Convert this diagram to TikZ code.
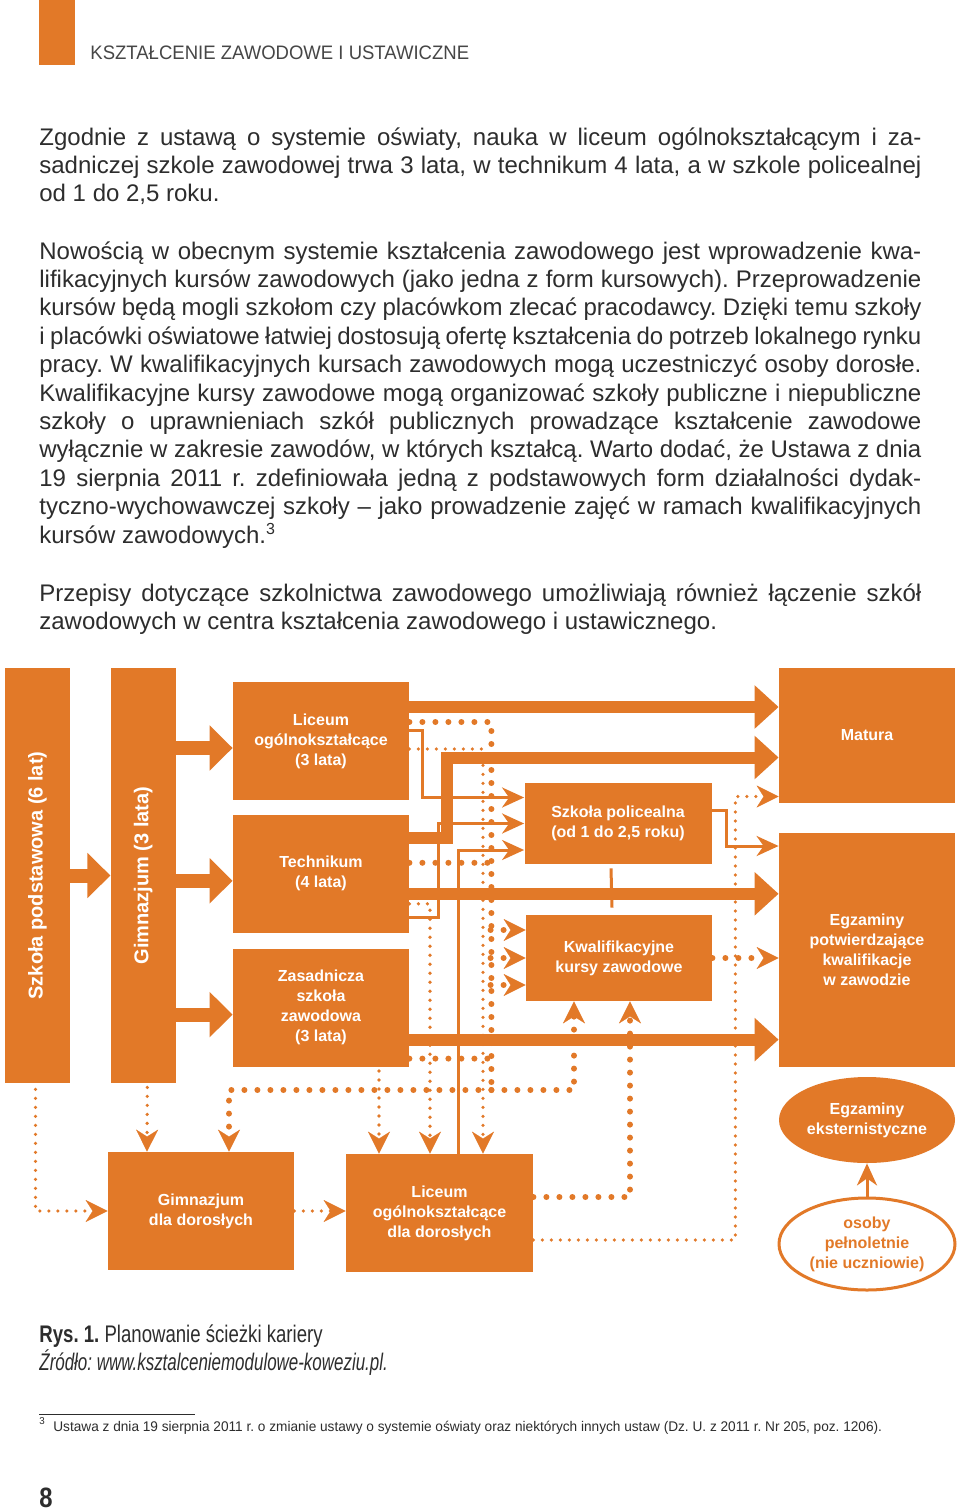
\documentclass[tikz,border=0pt]{standalone}
\usepackage{fontspec}
\setmainfont{Liberation Sans}
\usepackage{graphicx}
\usetikzlibrary{arrows.meta, positioning, calc, shapes.geometric}
\definecolor{pomar}{RGB}{226,121,40}
\definecolor{tekst}{RGB}{45,45,45}
\definecolor{szary}{RGB}{70,70,70}
\frenchspacing

\begin{document}
\begin{tikzpicture}[x=0.5pt, y=-0.5pt,
    skrzynka/.style={fill=pomar, text=white, align=center, inner sep=0pt,
                     font=\fontsize{8pt}{10pt}\selectfont\bfseries},
    akapit/.style={anchor=north west, text width=441pt, align=justify, inner sep=0pt,
                   text=tekst, font=\fontsize{12pt}{14.2pt}\selectfont},
    gruba/.style={pomar, line width=6pt, -{Triangle[length=12pt, width=21pt]}},
    grubaP/.style={pomar, line width=7pt, -{Triangle[length=11.5pt, width=22pt]}},
    cienka/.style={pomar, line width=1.5pt, -{Stealth[length=11pt, width=10pt, inset=3.5pt]}},
    kropki/.style={pomar, line width=3pt, line cap=round, dash pattern=on 0pt off 6.5pt},
    kropeczki/.style={pomar, line width=1.8pt, line cap=round, dash pattern=on 0pt off 4.5pt},
    grot/.style={-{Stealth[length=11pt, width=11pt, inset=3.5pt, line width=0.1pt]}}
  ]
    \useasboundingbox[fill=white] (0,0) rectangle (960,1510);
    \hyphenpenalty=10000 \exhyphenpenalty=10000 \tolerance=10000

    % naglowek strony
    \fill[pomar] (39,0) rectangle (75,65);
    \node[anchor=base west, inner sep=0pt, text=szary, font=\fontsize{9.75pt}{11pt}\selectfont]
      (naglowek) at (90,59) {\scalebox{0.95}[1]{KSZTAŁCENIE ZAWODOWE I USTAWICZNE}};

    \node[akapit] (akapit1) at (39,127)
      {Zgodnie z ustawą o systemie oświaty, nauka w liceum ogólnokształcącym i za-\linebreak
       sadniczej szkole zawodowej trwa 3 lata, w technikum 4 lata, a w szkole policealnej\linebreak
       od 1 do 2,5 roku.};
    \node[akapit] (akapit2) at (39,241)
      {Nowością w obecnym systemie kształcenia zawodowego jest wprowadzenie kwa-\linebreak
       lifikacyjnych kursów zawodowych (jako jedna z form kursowych). Przeprowadzenie\linebreak
       kursów będą mogli szkołom czy placówkom zlecać pracodawcy. Dzięki temu szkoły\linebreak
       i placówki oświatowe łatwiej dostosują ofertę kształcenia do potrzeb lokalnego rynku\linebreak
       pracy. W kwalifikacyjnych kursach zawodowych mogą uczestniczyć osoby dorosłe.\linebreak
       Kwalifikacyjne kursy zawodowe mogą organizować szkoły publiczne i niepubliczne\linebreak
       szkoły o uprawnieniach szkół publicznych prowadzące kształcenie zawodowe\linebreak
       wyłącznie w zakresie zawodów, w których kształcą. Warto dodać, że Ustawa z dnia\linebreak
       19 sierpnia 2011 r. zdefiniowała jedną z podstawowych form działalności dydak-\linebreak
       tyczno-wychowawczej szkoły – jako prowadzenie zajęć w ramach kwalifikacyjnych\linebreak
       kursów zawodowych.\textsuperscript{3}};
    \node[akapit] (akapit3) at (39,583)
      {Przepisy dotyczące szkolnictwa zawodowego umożliwiają również łączenie szkół\linebreak
       zawodowych w centra kształcenia zawodowego i ustawicznego.};

    % schemat
    \node[skrzynka, minimum width=32.5pt, minimum height=207.5pt] (podst) at (37.5,875.5)
      {\rotatebox{90}{\fontsize{10pt}{12pt}\selectfont Szkoła podstawowa (6 lat)}};
    \node[skrzynka, minimum width=32.5pt, minimum height=207.5pt, right=20pt of podst] (gimn)
      {\rotatebox{90}{\fontsize{10pt}{12pt}\selectfont Gimnazjum (3 lata)}};
    \node[skrzynka, minimum width=88pt, minimum height=59pt] (lic) at (321,741)
      {Liceum\\ogólnokształcące\\(3 lata)};
    \node[skrzynka, minimum width=88pt, minimum height=59pt, below=7pt of lic] (tech)
      {Technikum\\(4 lata)};
    \node[skrzynka, minimum width=88pt, minimum height=59pt, below=7.5pt of tech] (zsz)
      {Zasadnicza\\szkoła\\zawodowa\\(3 lata)};
    \node[skrzynka, minimum width=88pt, minimum height=67.5pt] (matura) at (867,735.5) {Matura};
    \node[skrzynka, minimum width=88pt, minimum height=117pt] (egz) at (867,950)
      {Egzaminy\\potwierdzające\\kwalifikacje\\w zawodzie};
    \node[skrzynka, minimum width=93.5pt, minimum height=40.5pt] (polic) at (618,823.5)
      {Szkoła policealna\\(od 1 do 2,5 roku)};
    \node[skrzynka, minimum width=93pt, minimum height=43pt] (kkz) at (619,958)
      {Kwalifikacyjne\\kursy zawodowe};
    \node[skrzynka, ellipse, minimum width=88pt, minimum height=43pt] (ekst) at (867,1120)
      {Egzaminy\\eksternistyczne};
    \node[skrzynka, ellipse, fill=white, draw=pomar, line width=1.5pt, text=pomar,
          minimum width=88pt, minimum height=46pt] (osoby) at (867,1244)
      {osoby\\pełnoletnie\\(nie uczniowie)};
    \node[skrzynka, minimum width=93pt, minimum height=59pt] (gimdor) at (201,1211)
      {Gimnazjum\\dla dorosłych};
    \node[skrzynka, minimum width=93.5pt, minimum height=59pt] (licdor) at (439.5,1213)
      {Liceum\\ogólnokształcące\\dla dorosłych};

    % kropki duze
    \coordinate (szyna) at ($(lic.east)+(82,349)$);
    \draw[kropki] ($(lic.east)+(0,-19)$) -| (szyna);
    \draw[kropki] ($(tech.east)+(0,-11)$) -- ++(82,0);
    \draw[kropki] ($(zsz.east)+(0,51)$) -- ++(82,0);
    \draw[kropki, grot] (szyna) -| ($(gimdor.north)+(28,0)$);
    \draw[kropki, grot] (szyna) -| ($(kkz.south)+(-45,0)$);
    \foreach \dy in {-28,0,27}
      \draw[kropki, grot] ($(kkz.west)+(-35,\dy)$) -- ($(kkz.west)+(0,\dy)$);
    \draw[kropki, grot] (kkz.east) -- (kkz.east -| egz.west);
    \draw[kropki, grot] ($(licdor.east)+(0,-16)$) -| ($(kkz.south)+(11,0)$);

    % kropki male
    \draw[kropeczki, grot] ($(lic.east)+(0,8)$) -| ($(licdor.north)+(43.5,0)$);
    \draw[kropeczki, grot] ($(tech.east)+(0,30)$) -| ($(licdor.north)+(-9.5,0)$);
    \draw[kropeczki, grot] ($(zsz.south)+(58,4)$) -- ($(licdor.north)+(-60.5,0)$);
    \draw[kropeczki, grot] ($(gimn.south)+(4,4)$) -- ($(gimdor.north)+(-54,0)$);
    \draw[kropeczki, grot] ($(podst.south)+(-2,6)$) |- (gimdor.west);
    \draw[kropeczki, grot] (gimdor.east) -- (gimdor.east -| licdor.west);
    \draw[kropeczki, grot] ($(licdor.east)+(0,27)$) -- ++(202,0) |- ($(matura.west)+(0,61)$);

    % linie cienkie
    \draw[cienka] ($(lic.east)+(0,-11)$) -- ++(13,0) |- ($(polic.west)+(0,-26)$);
    \draw[cienka] ($(tech.east)+(0,44)$) -- ++(29,0) |- (polic.west);
    \draw[cienka] ($(licdor.north)+(18.5,0)$) |- ($(polic.west)+(0,26.5)$);
    \draw[cienka] ($(polic.east)+(0,-13.5)$) -- ++(15,0) |- ($(egz.west)+(0,-104)$);
    \draw[pomar, line width=1.5pt] ($(polic.south)+(-7,4)$) -- ($(kkz.north)+(-7,-7)$);
    \draw[cienka] (osoby) -- (ekst);

    % strzalki grube
    \draw[grubaP] (podst.east) -- (gimn.west);
    \foreach \cel in {lic,tech,zsz}
      \draw[grubaP] ($(gimn.east |- \cel.west)+(0,7)$) -- ($(\cel.west)+(0,7)$);
    \coordinate (lm) at ($(lic.east)+(0,-34)$);
    \draw[gruba] (lm) -- (lm -| matura.west);
    \draw[gruba] ($(tech.east)+(0,-36)$) -- ++(38,0) |- ($(matura.west)+(0,22)$);
    \coordinate (te) at ($(tech.east)+(0,20)$);
    \draw[gruba] (te) -- (te -| egz.west);
    \coordinate (ze) at ($(zsz.east)+(0,32)$);
    \draw[gruba] (ze) -- (ze -| egz.west);

    % podpis i przypis
    \node[anchor=base west, inner sep=0pt, text=tekst, font=\fontsize{12pt}{14pt}\selectfont]
      (rys) at (39,1342) {\scalebox{0.775}[1]{\textbf{Rys. 1.} Planowanie ścieżki kariery}};
    \node[anchor=base west, inner sep=0pt, text=tekst, font=\fontsize{12pt}{14pt}\selectfont\itshape]
      (zrodlo) at (39,1370) {\scalebox{0.706}[1]{Źródło: www.ksztalceniemodulowe-koweziu.pl.}};
    \draw[tekst, line width=0.5pt] (39,1414) -- (195,1414);
    \node[anchor=base west, inner sep=0pt, text=tekst, font=\fontsize{7pt}{8pt}\selectfont]
      (przypis) at (39,1431) {\scalebox{0.975}[1]{\textsuperscript{3}\ \ Ustawa z dnia 19 sierpnia 2011 r. o zmianie ustawy o systemie oświaty oraz niektórych innych ustaw (Dz. U. z 2011 r. Nr 205, poz. 1206).}};
    \node[anchor=base west, inner sep=0pt, text=tekst, font=\fontsize{14pt}{16pt}\selectfont\bfseries]
      (strona) at (39,1507) {\scalebox{0.85}[1]{8}};
\end{tikzpicture}
\end{document}
